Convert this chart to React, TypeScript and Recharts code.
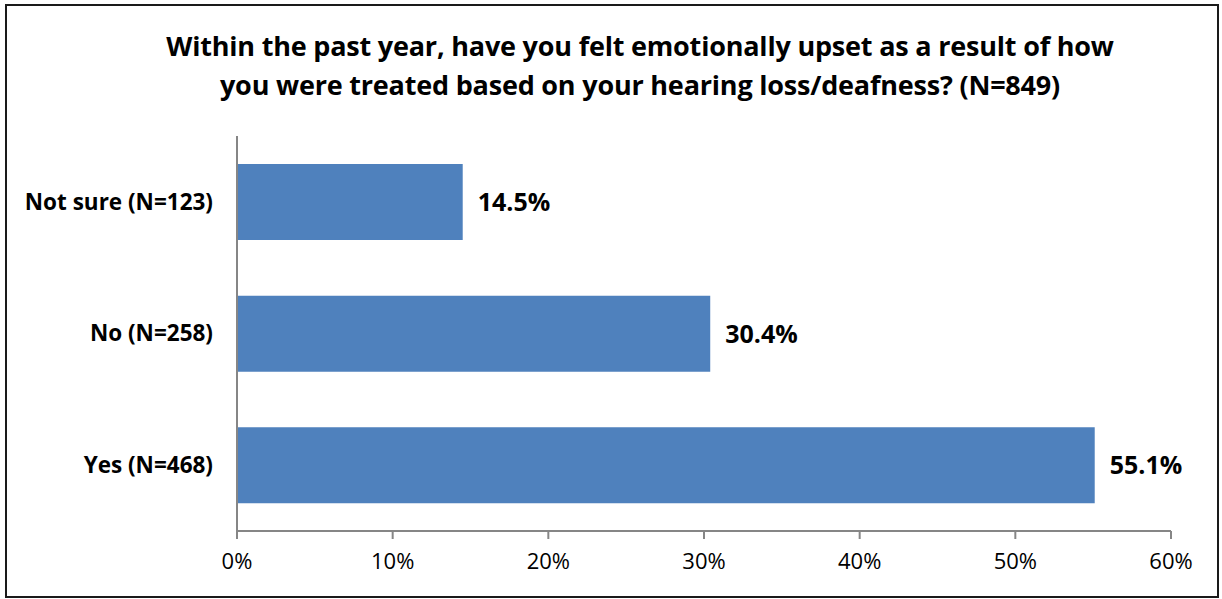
import { BarChart, Bar, XAxis, YAxis, LabelList } from "recharts";

const categories = ["Not sure (N=123)", "No (N=258)", "Yes (N=468)"];
const percentages = [14.5, 30.4, 55.1];
const xTicks = [0, 10, 20, 30, 40, 50, 60];

const data = categories.map((name, i) => ({ name, value: percentages[i] }));

const FONT = "'Open Sans', Lato, sans-serif";
const AXIS = "#868686";

export default function App() {
  return (
    <div
      style={{
        position: "absolute",
        left: 0,
        top: 0,
        width: 1222,
        height: 599,
        background: "#fff",
        fontFamily: FONT,
      }}
    >
      <div
        style={{
          position: "absolute",
          left: 5,
          top: 4,
          width: 1210,
          height: 590,
          border: "2px solid #1a1a1a",
        }}
      />
      <div
        style={{
          position: "absolute",
          left: 40,
          top: 26,
          width: 1200,
          textAlign: "center",
          fontWeight: 700,
          fontSize: 27,
          lineHeight: "39px",
          color: "#000",
          letterSpacing: -0.2,
        }}
      >
        Within the past year, have you felt emotionally upset as a result of how
        <br />
        you were treated based on your hearing loss/deafness? (N=849)
      </div>
      <div style={{ position: "absolute", left: 0, top: 0 }}>
        <BarChart
          width={1222}
          height={599}
          data={data}
          layout="vertical"
          margin={{ top: 136, right: 51, bottom: 0, left: 0 }}
        >
          <XAxis
            type="number"
            domain={[0, 60]}
            ticks={xTicks}
            tickFormatter={(v) => `${v}%`}
            height={68}
            axisLine={{ stroke: AXIS, strokeWidth: 2 }}
            tickLine={{ stroke: AXIS, strokeWidth: 2 }}
            tickSize={8}
            tickMargin={14}
            tick={{ fontSize: 22, fill: "#000", fontFamily: FONT }}
            interval={0}
          />
          <YAxis
            type="category"
            dataKey="name"
            width={237}
            axisLine={{ stroke: AXIS, strokeWidth: 2 }}
            tickLine={false}
            tickSize={0}
            tickMargin={24}
            tick={{ fontSize: 22.5, fill: "#000", fontWeight: 700, fontFamily: FONT }}
          />
          <Bar dataKey="value" fill="#4F81BD" barSize={76} isAnimationActive={false}>
            <LabelList
              dataKey="value"
              position="right"
              offset={15}
              formatter={(v: number) => `${v.toFixed(1)}%`}
              style={{ fontSize: 25, fontWeight: 700, fill: "#000", fontFamily: FONT }}
            />
          </Bar>
        </BarChart>
      </div>
    </div>
  );
}
